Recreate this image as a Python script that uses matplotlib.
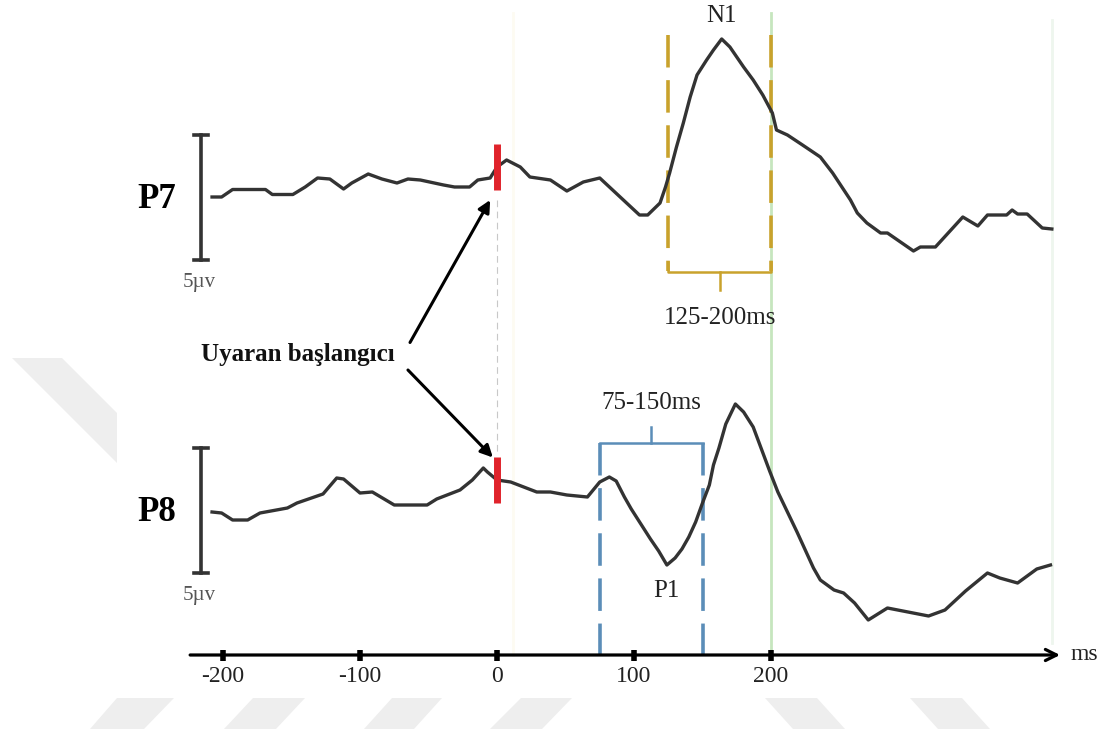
import matplotlib.pyplot as plt
import matplotlib.patches as mpatches
import numpy as np

# ERP traces (ms, µV; negative plotted upward)
p7_time_ms = [-208, -201, -193, -169, -164, -149, -140, -131, -122, -112,
              -106, -94, -84, -73, -65, -56, -39, -31, -20, -14,
              -5, 0, 7, 17, 24, 39, 51, 63, 75, 104,
              110, 119, 123, 126, 131, 136, 141, 146, 153, 158,
              164, 170, 180, 187, 194, 201, 204, 212, 223, 236,
              245, 258, 263, 270, 280, 285, 304, 309, 320, 340,
              351, 358, 372, 376, 380, 387, 398, 405]
p7_amp_uv = [0.4, 0.4, 0.1, 0.1, 0.3, 0.3, 0.0, -0.36, -0.32, 0.08,
             -0.16, -0.52, -0.32, -0.16, -0.32, -0.28, -0.08, 0.0, 0.0, -0.28,
             -0.36, -0.8, -1.08, -0.8, -0.4, -0.28, 0.16, -0.2, -0.36, 1.12,
             1.12, 0.64, 0.0, -0.56, -1.6, -2.56, -3.6, -4.48, -5.08, -5.48,
             -5.92, -5.6, -4.8, -4.28, -3.68, -2.96, -2.28, -2.08, -1.68, -1.2,
             -0.56, 0.52, 1.04, 1.44, 1.84, 1.84, 2.56, 2.4, 2.4, 1.2,
             1.56, 1.12, 1.12, 0.92, 1.08, 1.08, 1.64, 1.68]

p8_time_ms = [-208, -201, -193, -182, -173, -153, -146, -127, -117, -112,
              -100, -91, -75, -51, -44, -27, -18, -10, -7, 0,
              10, 29, 39, 51, 66, 69, 75, 82, 87, 93,
              98, 105, 112, 118, 124, 130, 135, 140, 145, 150,
              155, 158, 162, 167, 174, 180, 187, 193, 199, 205,
              212, 219, 226, 231, 236, 246, 253, 261, 271, 285,
              300, 315, 327, 342, 358, 367, 380, 394, 404]
p8_amp_uv = [0.48, 0.52, 0.8, 0.8, 0.52, 0.32, 0.12, -0.24, -0.88, -0.84,
             -0.28, -0.32, 0.2, 0.2, -0.04, -0.4, -0.8, -1.28, -1.12, -0.8,
             -0.72, -0.32, -0.32, -0.2, -0.12, -0.32, -0.72, -0.92, -0.76, -0.12,
             0.36, 0.96, 1.56, 2.04, 2.6, 2.32, 1.96, 1.48, 0.88, 0.12,
             -0.6, -1.4, -2.08, -3.04, -3.84, -3.52, -2.92, -2.04, -1.16, -0.32,
             0.48, 1.28, 2.12, 2.72, 3.2, 3.6, 3.72, 4.12, 4.8, 4.32,
             4.48, 4.64, 4.4, 3.64, 2.92, 3.12, 3.32, 2.76, 2.6]

channel_names = ["P7", "P8"]
time_ticks = [-200, -100, 0, 100, 200]
stim_onset = 0
n1_window = (125, 200)
p1_window = (75, 150)
scale_uv = 5

# layout of the canvas (pixels per unit)
W, H = 1115, 733
PX_PER_MS = 1.37
ZERO_PX = 497
PX_PER_UV = 25

serif = "Liberation Serif"
trace_col = "#333333"
gold = "#C9A22C"
blue = "#5B8DB8"

fig = plt.figure(figsize=(W / 100, H / 100), dpi=100)
ax = fig.add_axes([0, 0, 1, 1])
ax.set_xlim(-ZERO_PX / PX_PER_MS, (W - ZERO_PX) / PX_PER_MS)
ax.set_ylim(H / PX_PER_UV, 0)
ax.axis("off")

# faint background watermark shapes (pixel coords)
shapes = [
    [(12, 358), (62, 358), (117, 413), (117, 463)],
    [(117, 698), (174, 698), (144, 729), (90, 729)],
    [(253, 698), (305, 698), (276, 729), (224, 729)],
    [(392, 698), (442, 698), (414, 729), (364, 729)],
    [(521, 698), (572, 698), (542, 729), (490, 729)],
    [(765, 698), (817, 698), (845, 729), (793, 729)],
    [(910, 698), (962, 698), (990, 729), (938, 729)],
]
for s in shapes:
    fig.patches.append(mpatches.Polygon([(x, H - y) for x, y in s], closed=True,
                                        transform=None, facecolor="#EEEEEE",
                                        edgecolor="none", zorder=0))

rows = {"P7": 7.48, "P8": 20.0}
traces = {"P7": (p7_time_ms, p7_amp_uv), "P8": (p8_time_ms, p8_amp_uv)}
axis_y = 26.2

# pale guide lines
ax.plot([200, 200], [0.5, axis_y], color="#C6E6BE", lw=2, zorder=1)
ax.plot([405, 405], [0.8, axis_y - 0.5], color="#EEF6EE", lw=2, zorder=1)
ax.plot([12, 12], [0.5, axis_y], color="#FDFBF2", lw=2, zorder=1)
ax.plot([stim_onset, stim_onset], [rows["P7"] + 0.5, rows["P8"] - 1.9],
        color="#C8C8C8", lw=0.8, ls=(0, (6, 4)), zorder=1)

for name in channel_names:
    t, v = traces[name]
    row = rows[name]
    ax.plot(t, row + np.array(v), color=trace_col, lw=2.4, zorder=3)

    # 5 µV scale bar
    top, bot = row - 2.08, row - 2.08 + scale_uv
    ax.plot([-216, -216], [top, bot], color=trace_col, lw=2.6, zorder=3)
    for yy in (top, bot):
        ax.plot([-221, -211], [yy, yy], color=trace_col, lw=2.6, zorder=3)
    ax.text(-217, bot + 0.9, "5µv", ha="center", va="center", fontsize=15,
            family=serif, color="#555555")
    ax.text(-248, row + 0.5, name, ha="center", va="center", fontsize=25,
            family=serif, fontweight="bold", color="black")

    # stimulus onset marker
    c = row + np.interp(stim_onset, t, v)
    ax.plot([stim_onset, stim_onset], [c - 0.92, c + 0.92], color="#E0232B",
            lw=5, zorder=4, solid_capstyle="butt")

# arrows to onset markers
label_x, label_y = -145, 14.2
ax.text(label_x, label_y, "Uyaran başlangıcı", ha="center", va="center",
        fontsize=18, family=serif, fontweight="bold", color="#111111")
for head, tail in [((-5, 8.0), (-63.5, 13.7)), ((-3, 18.3), (-65, 14.8))]:
    ax.annotate("", xy=head, xytext=tail,
                arrowprops=dict(arrowstyle="-|>", color="black", lw=2.2,
                                mutation_scale=18, shrinkA=0, shrinkB=0))

# N1 window (P7)
n1_top, n1_bot = 1.4, 10.88
for x in n1_window:
    ax.plot([x, x], [n1_top, n1_bot - 0.05], color=gold, lw=2.6,
            ls=(0, (9, 3.5)), zorder=2)
ax.plot([n1_window[0], n1_window[0], n1_window[1], n1_window[1]],
        [n1_bot - 0.4, n1_bot, n1_bot, n1_bot - 0.4], color=gold, lw=1.8, zorder=2)
n1_mid = sum(n1_window) / 2
ax.plot([n1_mid, n1_mid], [n1_bot, n1_bot + 0.7], color=gold, lw=1.8, zorder=2)
ax.text(n1_mid, 12.72, f"{n1_window[0]}-{n1_window[1]}ms", ha="center", va="center",
        fontsize=18, family=serif, color="#222222")
n1_t = p7_time_ms[int(np.argmin(p7_amp_uv))]
ax.text(n1_t, 0.62, "N1", ha="center", va="center", fontsize=18, family=serif,
        color="#222222")

# P1 window (P8)
p1_top = 17.72
for x in p1_window:
    ax.plot([x, x], [p1_top, axis_y], color=blue, lw=2.6, ls=(0, (9, 3.5)), zorder=2)
ax.plot([p1_window[0], p1_window[1]], [p1_top, p1_top], color=blue, lw=1.8, zorder=2)
p1_mid = sum(p1_window) / 2
ax.plot([p1_mid, p1_mid], [p1_top, p1_top - 0.65], color=blue, lw=1.8, zorder=2)
ax.text(p1_mid, 16.12, f"{p1_window[0]}-{p1_window[1]}ms", ha="center", va="center",
        fontsize=18, family=serif, color="#222222")
win = [(tt, vv) for tt, vv in zip(p8_time_ms, p8_amp_uv) if p1_window[0] <= tt <= p1_window[1]]
p1_t = max(win, key=lambda p: p[1])[0]
ax.text(p1_t, 23.64, "P1", ha="center", va="center", fontsize=18, family=serif,
        color="#222222")

# time axis
ax.annotate("", xy=(411, axis_y), xytext=(-224, axis_y),
            arrowprops=dict(arrowstyle="->", color="black", lw=2.3,
                            mutation_scale=20, shrinkA=0, shrinkB=0))
for tk in time_ticks:
    ax.plot([tk, tk], [axis_y - 0.22, axis_y + 0.22], color="black", lw=4,
            solid_capstyle="butt", zorder=5)
    ax.text(tk, axis_y + 0.86, f"{tk}", ha="center", va="center", fontsize=17,
            family=serif, color="#222222")
ax.text(429, axis_y, "ms", ha="center", va="center", fontsize=17, family=serif,
        color="#222222")

fig.savefig("out.png", dpi=100)
